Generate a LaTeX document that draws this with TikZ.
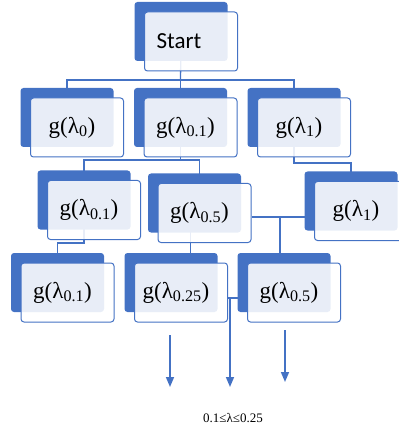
\documentclass[tikz,border=0pt]{standalone}
\usepackage{fontspec}
\setmainfont{Liberation Serif}
\newfontfamily\startfont{Carlito}
\usetikzlibrary{arrows.meta,shadows,backgrounds}
\definecolor{officeblue}{HTML}{4472C4}

\begin{document}
\begin{tikzpicture}[x=1pt,y=-1pt,
  box/.style={rectangle, rounded corners=3pt, draw=officeblue, line width=1pt,
    fill=white, fill opacity=0.88, text opacity=1,
    minimum width=93pt, minimum height=59pt,
    general shadow={fill=officeblue, fill opacity=1, draw=none,
      shadow xshift=-10pt, shadow yshift=10pt},
    font=\fontsize{23}{26}\selectfont,
    execute at end node={\hspace*{10pt}}},
  link/.style={officeblue, line width=1.3pt},
  arrowline/.style={officeblue, line width=1.5pt, -{Triangle[width=8pt,length=10pt]}}]
  \useasboundingbox (0,0) rectangle (398,430);

  % Root
  \node[box, font=\startfont\fontsize{23}{26}\selectfont] (start) at (191,41.5) {Start\hspace*{14pt}};

  % First row
  \node[box] (g0) at (77,127.5) {g(λ\textsubscript{0})};
  \node[box] (g01) at (190.5,127.5) {g(λ\textsubscript{0.1})};
  \node[box] (g1) at (304,127.5) {g(λ\textsubscript{1})};

  % Second row
  \node[box] (g01b) at (94,210) {g(λ\textsubscript{0.1})};
  \node[box] (g05) at (204.5,213) {g(λ\textsubscript{0.5})};
  \node[box] (g1b) at (361,211) {g(λ\textsubscript{1})};

  % Third row
  \node[box] (g01c) at (67.5,292.5) {g(λ\textsubscript{0.1})};
  \node[box] (g025) at (181,292.5) {g(λ\textsubscript{0.25})};
  \node[box] (g05b) at (294,292.5) {g(λ\textsubscript{0.5})};

  % Connectors behind the boxes
  \begin{scope}[on background layer]
    \coordinate (j0) at (180.5,80);
    \draw[link] ([xshift=-10pt]start.center) -- (j0);
    \draw[link] ([xshift=-10pt]g0.center) |- (j0) -| ([xshift=-10pt]g1.center);
    \draw[link] (j0) -- (j0 |- g01.center);

    \coordinate (j1) at (180.5,160);
    \draw[link] ([xshift=-10pt]g01.center) -- (j1);
    \draw[link] ([xshift=-10pt]g01b.center) |- (j1) -| ([xshift=-5pt]g05.center);
    \draw[link] ([xshift=-10pt]g1.center) -- ++(0,35.5) -| ([xshift=-10pt]g1b.center);

    \draw[link] ([xshift=-10pt]g01b.center) -- ++(0,33) -| ([xshift=-10pt]g01c.center);
    \draw[link] ([xshift=-14pt]g05.center) -- ([xshift=-14pt]g05.center |- g025.center);
    \draw[link] ([yshift=-4pt]g05.east) -- ([yshift=-4pt]g05.east -| g1b.west);
    \draw[link] ([yshift=-5.5pt]g025.east) -- ([yshift=-5.5pt]g025.east -| g05b.west);
  \end{scope}

  \coordinate (j2) at (280,217);
  \draw[link] (j2) -- (j2 |- g05b.north);

  % Arrows
  \coordinate (a1) at (170,335);
  \coordinate (a2) at (230,298);
  \coordinate (a3) at (285,330);
  \draw[arrowline] (a1) -- ++(0,52);
  \draw[arrowline] (a2) -- ++(0,89);
  \draw[arrowline] (a3) -- ++(0,52);

  % Range
  \node[font=\fontsize{13}{15}\selectfont] (range) at (233,418) {0.1≤λ≤0.25};
\end{tikzpicture}
\end{document}
